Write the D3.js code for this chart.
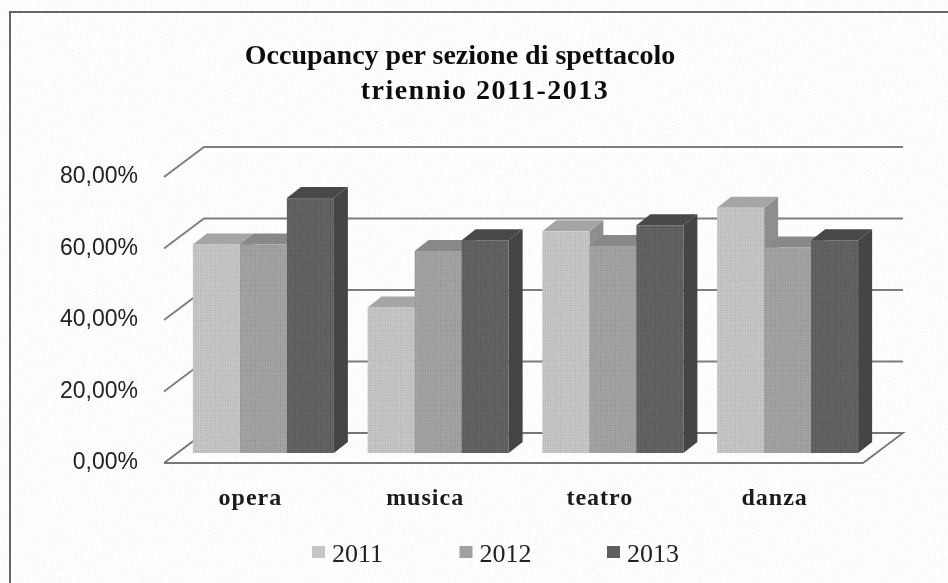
<!DOCTYPE html>
<html lang="en">
<head>
<meta charset="utf-8">
<title>Occupancy per sezione di spettacolo</title>
<script src="https://cdn.jsdelivr.net/npm/d3@7"></script>
<style>
  body { margin: 0; background: #fff; }
  svg { display: block; }
</style>
</head>
<body>
<script>
// values
var categories = ["opera", "musica", "teatro", "danza"];
var years = ["2011", "2012", "2013"];
var values2011 = [58.3, 40.7, 62.0, 68.6];
var values2012 = [58.3, 56.5, 57.9, 57.5];
var values2013 = [71.3, 59.5, 63.7, 59.5];
var yTicks = [0, 20, 40, 60, 80];
var titleLines = ["Occupancy per sezione di spettacolo", "triennio 2011-2013"];

var seriesValues = [values2011, values2012, values2013];
var front = ["#c6c6c6", "#a2a2a2", "#5f5f5f"];
var side = ["#8f8f8f", "#7c7c7c", "#444444"];
var top_ = ["#a6a6a6", "#8a8a8a", "#4a4a4a"];

var w = 948, h = 583;

// plot geometry: front plane of the floor, and how far the wall sits behind it
var x0 = 164, x1 = 863, yBase = 463, yTop = 177;
var wallDx = 40, wallDy = -30;
var barOffX = 12, barOffY = -10;   // bars stand a bit behind the front edge
var barDx = 14, barDy = -11;       // depth of one bar

var svg = d3.select("body").append("svg").attr("width", w).attr("height", h);

var defs = svg.append("defs");
// scan look: fine halftone on the bars, slight softening everywhere
var pattern = defs.append("pattern")
  .attr("id", "halftone").attr("width", 2.5).attr("height", 2.5)
  .attr("patternUnits", "userSpaceOnUse");
pattern.append("rect").attr("width", 1).attr("height", 1).attr("fill", "#000").attr("opacity", 0.12);
pattern.append("rect").attr("x", 1.25).attr("y", 1.25).attr("width", 1).attr("height", 1).attr("fill", "#fff").attr("opacity", 0.14);
defs.append("filter").attr("id", "soft")
  .append("feGaussianBlur").attr("stdDeviation", 0.6);
var grain = defs.append("filter").attr("id", "grain")
  .attr("x", 0).attr("y", 0).attr("width", "100%").attr("height", "100%");
grain.append("feTurbulence").attr("type", "fractalNoise").attr("baseFrequency", 0.6).attr("numOctaves", 2).attr("seed", 4);
grain.append("feColorMatrix").attr("values", "0 0 0 0 0  0 0 0 0 0  0 0 0 0 0  1.1 0 0 0 -0.45");

svg.append("rect").attr("width", w).attr("height", h).attr("fill", "#fefefe");

var chart = svg.append("g").attr("filter", "url(#soft)");

// frame, open on the right and at the bottom edge of the crop
chart.append("path")
  .attr("d", d3.line()([[10, h], [10, 12], [w, 12]]))
  .attr("fill", "none").attr("stroke", "#666").attr("stroke-width", 2);

var y = d3.scaleLinear().domain([0, 80]).range([yBase, yTop]);
var x = d3.scaleBand().domain(categories).range([x0, x1]);
var xBar = d3.scaleBand().domain(years).range([0, 141]);
var barLeft = (x.bandwidth() - xBar.range()[1]) / 2 + barOffX;

// floor
chart.append("path")
  .attr("d", d3.line()([[x0, yBase], [x1, yBase], [x1 + wallDx, yBase + wallDy], [x0 + wallDx, yBase + wallDy], [x0, yBase]]))
  .attr("fill", "none").attr("stroke", "#777").attr("stroke-width", 1.8);

// gridlines: diagonal on the side wall, then flat along the back wall
var lineColor = "#7e7e7e";
chart.selectAll(".grid").data(yTicks.slice(1)).enter().append("path")
  .attr("class", "grid")
  .attr("fill", "none").attr("stroke", lineColor).attr("stroke-width", 1.8)
  .attr("d", function(d) {
    return d3.line()([[x0, y(d)], [x0 + wallDx, y(d) + wallDy], [x1 + wallDx, y(d) + wallDy]]);
  });

// bars, left to right so each one covers the side of the previous
var bars = [];
categories.forEach(function(c, i) {
  years.forEach(function(yr, s) {
    bars.push({ cat: c, year: yr, s: s, value: seriesValues[s][i] });
  });
});

var bar = chart.selectAll(".bar").data(bars).enter().append("g").attr("class", "bar");

function bx(d) { return x(d.cat) + barLeft + xBar(d.year); }
function bb() { return yBase + barOffY; }
function bt(d) { return y(d.value) + barOffY; }

bar.append("path")   // side
  .attr("fill", function(d) { return side[d.s]; })
  .attr("d", function(d) {
    var r = bx(d) + xBar.bandwidth();
    return d3.line()([[r, bb()], [r + barDx, bb() + barDy], [r + barDx, bt(d) + barDy], [r, bt(d)]]) + "Z";
  });
bar.append("path")   // top
  .attr("fill", function(d) { return top_[d.s]; })
  .attr("d", function(d) {
    var l = bx(d), r = l + xBar.bandwidth();
    return d3.line()([[l, bt(d)], [l + barDx, bt(d) + barDy], [r + barDx, bt(d) + barDy], [r, bt(d)]]) + "Z";
  });
bar.append("rect")   // front
  .attr("x", bx).attr("y", bt)
  .attr("width", xBar.bandwidth())
  .attr("height", function(d) { return bb() - bt(d); })
  .attr("fill", function(d) { return front[d.s]; });
bar.append("rect")   // halftone over the front
  .attr("x", bx).attr("y", bt)
  .attr("width", xBar.bandwidth())
  .attr("height", function(d) { return bb() - bt(d); })
  .attr("fill", "url(#halftone)");

// y axis labels
var itLocale = d3.formatLocale({ decimal: ",", thousands: ".", grouping: [3], currency: ["", "€"] });
var fmt = itLocale.format(".2f");
var yAxis = chart.append("g")
  .attr("transform", "translate(150,0)")
  .call(d3.axisLeft(y).tickValues(yTicks).tickSize(0).tickPadding(12)
    .tickFormat(function(d) { return fmt(d) + "%"; }));
yAxis.select(".domain").remove();
yAxis.selectAll("text")
  .attr("dy", "0.26em")
  .attr("font-family", "'Liberation Sans', sans-serif")
  .attr("font-size", 23)
  .attr("fill", "#222");

// category labels
var xAxis = chart.append("g")
  .attr("transform", "translate(-1,505)")
  .call(d3.axisBottom(x).tickSize(0).tickPadding(0));
xAxis.select(".domain").remove();
xAxis.selectAll("text")
  .attr("dy", 0)
  .attr("y", 0)
  .attr("font-family", "'Liberation Serif', serif")
  .attr("font-size", 24)
  .attr("font-weight", "bold")
  .attr("letter-spacing", 1)
  .attr("fill", "#1a1a1a");

// title
var titleX = [460, 485], titleY = [64, 99], titleSpacing = [0, 1.5];
chart.selectAll(".title").data(titleLines).enter().append("text")
  .attr("class", "title")
  .attr("x", function(d, i) { return titleX[i]; })
  .attr("y", function(d, i) { return titleY[i]; })
  .attr("text-anchor", "middle")
  .attr("font-family", "'Liberation Serif', serif")
  .attr("font-size", 28).attr("font-weight", "bold")
  .attr("letter-spacing", function(d, i) { return titleSpacing[i]; })
  .attr("fill", "#111")
  .text(function(d) { return d; });

// legend
var legendX = d3.scalePoint().domain(years).range([312, 607]);
var legend = chart.selectAll(".legend").data(years).enter().append("g")
  .attr("class", "legend")
  .attr("transform", function(d) { return "translate(" + legendX(d) + ",0)"; });
legend.append("rect")
  .attr("y", 546).attr("width", 13).attr("height", 12)
  .attr("fill", function(d, i) { return front[i]; });
legend.append("text")
  .attr("x", 20).attr("y", 562)
  .attr("font-family", "'Liberation Serif', serif")
  .attr("font-size", 26)
  .attr("fill", "#222")
  .text(function(d) { return d; });

// faint paper grain from the scan, on top of everything
svg.append("rect").attr("width", w).attr("height", h)
  .attr("filter", "url(#grain)").attr("opacity", 0.05);
</script>
</body>
</html>
